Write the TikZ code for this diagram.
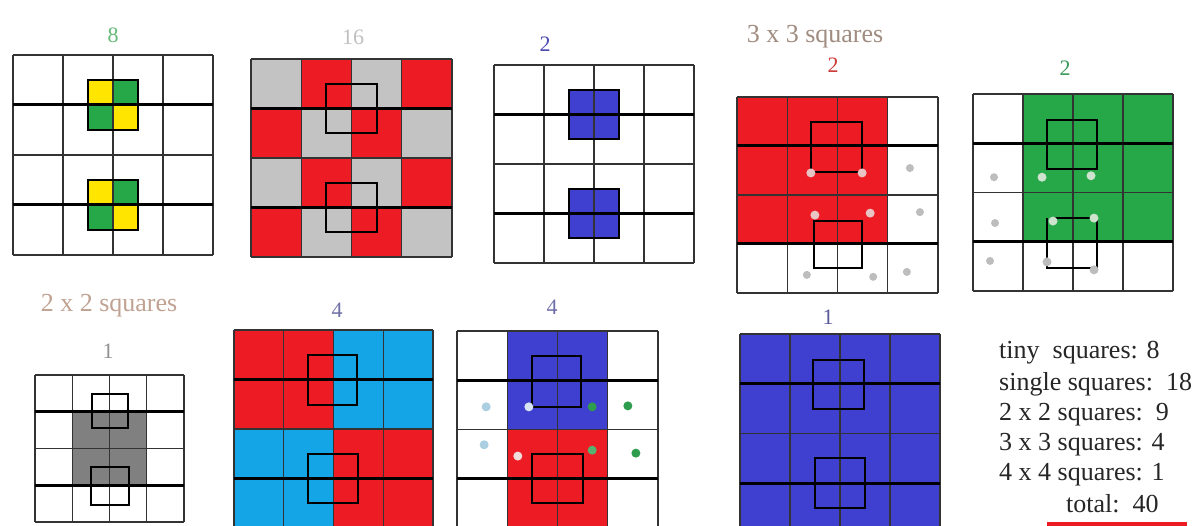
\documentclass[tikz,border=0pt]{standalone}
\usepackage{fontspec}
\setmainfont{Liberation Serif}
\definecolor{yel}{HTML}{FFE500}
\definecolor{grn}{HTML}{26A748}
\definecolor{rd}{HTML}{ED1C24}
\definecolor{gry}{HTML}{C3C3C3}
\definecolor{blu}{HTML}{3F3FD0}
\definecolor{cyn}{HTML}{14A5E6}
\definecolor{dgry}{HTML}{808080}
\definecolor{dotw}{HTML}{BDBDBD}
\definecolor{dotr}{HTML}{E8C4C4}
\definecolor{dotg}{HTML}{CDE3CD}
\definecolor{dotlb}{HTML}{A9CFE0}
\definecolor{dotb}{HTML}{D8E4F4}
\definecolor{dotgr}{HTML}{2E9E4E}
\definecolor{labgreen}{HTML}{66BB77}
\definecolor{labgray}{HTML}{C0C0C0}
\definecolor{labblue}{HTML}{4A4AB0}
\definecolor{labbrown}{HTML}{A08C80}
\definecolor{labred}{HTML}{CC3A3A}
\definecolor{labdgreen}{HTML}{3A9A5A}
\definecolor{labtan}{HTML}{C0A292}
\definecolor{labmid}{HTML}{909090}
\definecolor{labslate}{HTML}{7070A8}
\definecolor{labnavy}{HTML}{5A5A9A}
\newcommand\mygridlines{%
  \foreach \k in {0,...,4} {\draw[gridline] (\k,0) -- (\k,4); \draw[gridline] (0,\k) -- (4,\k);}
  \draw[thickline] (0,1) -- (4,1);
  \draw[thickline] (0,3) -- (4,3);
}
\tikzset{
  gridline/.style={draw=black!80, line width=1.3pt},
  thickline/.style={draw=black, line width=3pt},
  sqline/.style={draw=black, line width=2.2pt},
  numlab/.style={font=\fontsize{22}{24}\selectfont},
  headlab/.style={font=\fontsize{26}{28}\selectfont},
  listtxt/.style={font=\fontsize{26}{30}\selectfont, anchor=base west, inner sep=0pt, text=black!85},
}
\begin{document}
\begin{tikzpicture}[x=1pt,y=-1pt]
\useasboundingbox (0,0) rectangle (1204,526);
\clip (0,0) rectangle (1204,526);
\fill[white] (0,0) rectangle (1204,526);

% ---------- Grid 1: tiny squares ----------
\begin{scope}[shift={(13pt,-55pt)}, x=50pt, y=-50pt]
  \foreach \yy in {0.5,2.5} {
    \fill[yel] (1.5,\yy) rectangle (2,\yy+0.5);
    \fill[grn] (2,\yy) rectangle (2.5,\yy+0.5);
    \fill[grn] (1.5,\yy+0.5) rectangle (2,\yy+1);
    \fill[yel] (2,\yy+0.5) rectangle (2.5,\yy+1);
  }
  \mygridlines
  \draw[sqline] (1.5,0.5) rectangle (2.5,1.5);
  \draw[sqline] (1.5,2.5) rectangle (2.5,3.5);
\end{scope}
\node[numlab, text=labgreen] (l8) at (113,35) {8};

% ---------- Grid 2: checkerboard ----------
\begin{scope}[shift={(251pt,-59pt)}, x=50.25pt, y=-49.5pt]
  \foreach \i in {0,...,3} \foreach \j in {0,...,3} {
    \pgfmathparse{mod(\i+\j,2)==0 ? "gry" : "rd"}
    \fill[\pgfmathresult] (\i,\j) rectangle (\i+1,\j+1);
  }
  \mygridlines
  \draw[sqline] (1.5,0.5) rectangle (2.5,1.5);
  \draw[sqline] (1.5,2.5) rectangle (2.5,3.5);
\end{scope}
\node[numlab, text=labgray] (l16) at (353,37) {16};

% ---------- Grid 3: blue small squares ----------
\begin{scope}[shift={(494pt,-65pt)}, x=50pt, y=-49.5pt]
  \fill[blu] (1.5,0.5) rectangle (2.5,1.5);
  \fill[blu] (1.5,2.5) rectangle (2.5,3.5);
  \mygridlines
  \draw[sqline] (1.5,0.5) rectangle (2.5,1.5);
  \draw[sqline] (1.5,2.5) rectangle (2.5,3.5);
\end{scope}
\node[numlab, text=labblue] (l2b) at (545,44) {2};

% ---------- Grid 4: 3x3 red ----------
\begin{scope}[shift={(737pt,-97pt)}, x=50.25pt, y=-49pt]
  \fill[rd] (0,0) rectangle (3,3);
  \mygridlines
  \draw[sqline] (1.47,0.51) rectangle (2.49,1.53);
  \draw[sqline] (1.53,2.53) rectangle (2.49,3.49);
  \fill[dotr] (1.47,1.55) circle[radius=4.5pt];
  \fill[dotr] (2.49,1.55) circle[radius=4.5pt];
  \fill[dotr] (1.55,2.41) circle[radius=4.5pt];
  \fill[dotr] (2.65,2.37) circle[radius=4.5pt];
  \fill[dotw] (3.44,1.45) circle[radius=4pt];
  \fill[dotw] (3.64,2.35) circle[radius=4pt];
  \fill[dotw] (3.38,3.57) circle[radius=4pt];
  \fill[dotw] (1.39,3.63) circle[radius=4pt];
  \fill[dotw] (2.71,3.67) circle[radius=4pt];
\end{scope}
\node[headlab, text=labbrown] (h3) at (815,37) {3 x 3 squares};
\node[numlab, text=labred] (l2r) at (833,65) {2};

% ---------- Grid 5: 3x3 green ----------
\begin{scope}[shift={(973pt,-94pt)}, x=50pt, y=-49.25pt]
  \fill[grn] (1,0) rectangle (4,3);
  \mygridlines
  \draw[sqline] (1.48,0.53) rectangle (2.48,1.52);
  \draw[sqline] (1.6,2.52) -- (2.42,2.52);
  \draw[sqline] (1.48,2.52) -- (1.48,3.53) -- (2.42,3.53);
  \draw[sqline] (2.48,2.52) -- (2.48,3.53);
  \fill[dotg] (1.38,1.69) circle[radius=4.5pt];
  \fill[dotg] (2.36,1.66) circle[radius=4.5pt];
  \fill[dotg] (1.6,2.58) circle[radius=4.5pt];
  \fill[dotg] (2.42,2.52) circle[radius=4.5pt];
  \fill[dotw] (1.48,3.41) circle[radius=4.5pt];
  \fill[dotw] (2.42,3.57) circle[radius=4.5pt];
  \fill[dotw] (0.42,1.69) circle[radius=4pt];
  \fill[dotw] (0.44,2.62) circle[radius=4pt];
  \fill[dotw] (0.34,3.39) circle[radius=4pt];
\end{scope}
\node[numlab, text=labdgreen] (l2g) at (1065,68) {2};

% ---------- Grid 6: 2x2 gray ----------
\begin{scope}[shift={(35pt,-375pt)}, x=37.25pt, y=-36.75pt]
  \fill[dgry] (1,1) rectangle (3,3);
  \mygridlines
  \draw[sqline] (1.53,0.52) rectangle (2.5,1.45);
  \draw[sqline] (1.5,2.5) rectangle (2.52,3.54);
\end{scope}
\node[headlab, text=labtan] (h2) at (109,306) {2 x 2 squares};
\node[numlab, text=labmid] (l1g) at (108,351) {1};

% ---------- Grid 7: red / cyan ----------
\begin{scope}[shift={(234pt,-330pt)}, x=49.75pt, y=-49.5pt]
  \fill[rd] (0,0) rectangle (2,2);
  \fill[cyn] (2,0) rectangle (4,2);
  \fill[cyn] (0,2) rectangle (2,4);
  \fill[rd] (2,2) rectangle (4,4);
  \mygridlines
  \draw[sqline] (1.49,0.5) rectangle (2.47,1.52);
  \draw[sqline] (1.49,2.5) rectangle (2.5,3.5);
\end{scope}
\node[numlab, text=labslate] (l4a) at (337,310) {4};

% ---------- Grid 8: blue / red columns ----------
\begin{scope}[shift={(457pt,-331pt)}, x=50.25pt, y=-49.25pt]
  \fill[blu] (1,0) rectangle (3,2);
  \fill[rd] (1,2) rectangle (3,4);
  \mygridlines
  \draw[sqline] (1.49,0.51) rectangle (2.47,1.54);
  \draw[sqline] (1.49,2.5) rectangle (2.5,3.49);
  \fill[dotb] (1.43,1.54) circle[radius=4.5pt];
  \fill[dotgr] (2.69,1.54) circle[radius=4.5pt];
  \fill[dotlb] (0.58,1.54) circle[radius=4.5pt];
  \fill[dotgr] (3.4,1.52) circle[radius=4.5pt];
  \fill[dotr!60!white] (1.21,2.54) circle[radius=4.5pt];
  \fill[dotgr!80!white] (2.69,2.42) circle[radius=4.5pt];
  \fill[dotlb] (0.54,2.31) circle[radius=4.5pt];
  \fill[dotgr] (3.56,2.48) circle[radius=4.5pt];
\end{scope}
\node[numlab, text=labslate] (l4b) at (552,307) {4};

% ---------- Grid 9: all blue ----------
\begin{scope}[shift={(740pt,-334pt)}, x=50pt, y=-49.75pt]
  \fill[blu] (0,0) rectangle (4,4);
  \mygridlines
  \draw[sqline] (1.46,0.52) rectangle (2.48,1.51);
  \draw[sqline] (1.5,2.49) rectangle (2.5,3.5);
\end{scope}
\node[numlab, text=labnavy] (l1b) at (828,317) {1};

% ---------- Totals ----------
\node[listtxt] (t1) at (999,358) {tiny\ \ squares: 8};
\node[listtxt] (t2) at (999,390) {single squares:\ \ 18};
\node[listtxt] (t3) at (999,420) {2 x 2 squares:\ \ 9};
\node[listtxt] (t4) at (999,450) {3 x 3 squares: 4};
\node[listtxt] (t5) at (999,480) {4 x 4 squares: 1};
\node[listtxt] (t6) at (1066,512) {total:\ \ 40};
\fill[rd] (1047,522) rectangle (1187,536);
\end{tikzpicture}
\end{document}
